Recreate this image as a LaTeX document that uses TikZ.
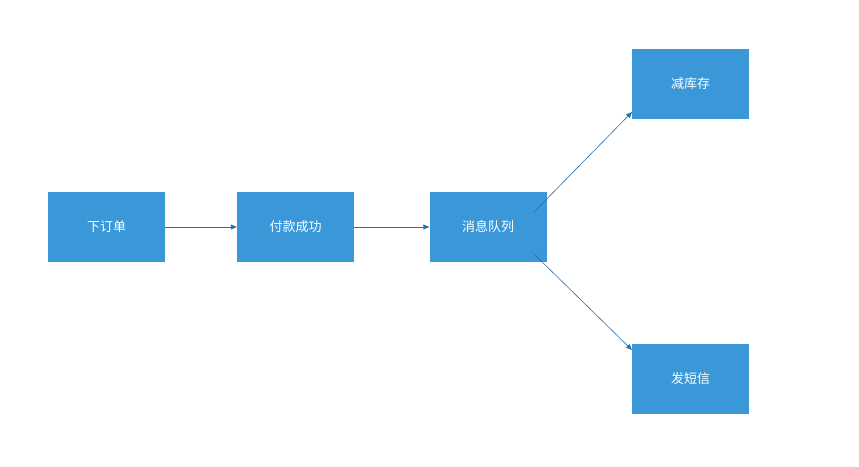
\documentclass[tikz,border=0pt]{standalone}
\usepackage{fontspec}
\setmainfont{Noto Sans CJK SC}
\usetikzlibrary{arrows.meta}
\definecolor{boxblue}{HTML}{3A98D9}
\definecolor{arrowblue}{HTML}{2C6FA8}
\begin{document}
\begin{tikzpicture}[x=1pt,y=-1pt,
  box/.style={fill=boxblue,draw=none,minimum width=117pt,minimum height=70pt,text=white,font=\fontsize{13}{15}\selectfont,inner sep=0pt},
  conn/.style={draw=arrowblue,line width=0.6pt,-{Triangle[length=6pt,width=5pt]}}]
\useasboundingbox[fill=white] (0,0) rectangle (859,466);
\node[box] (a) at (106.5,227) {下订单};
\node[box] (b) at (295.5,227) {付款成功};
\node[box] (c) at (488,227) {消息队列};
\node[box] (d) at (690.5,84) {减库存};
\node[box] (e) at (690.5,379) {发短信};
\coordinate (c1) at (533,213);
\coordinate (c2) at (533,253);
\coordinate (d1) at (632,112);
\coordinate (e1) at (632,350);
\draw[conn] (a) -- (b);
\draw[conn] (b) -- (c);
\draw[conn] (c1) -- (d1);
\draw[conn] (c2) -- (e1);
\end{tikzpicture}
\end{document}
